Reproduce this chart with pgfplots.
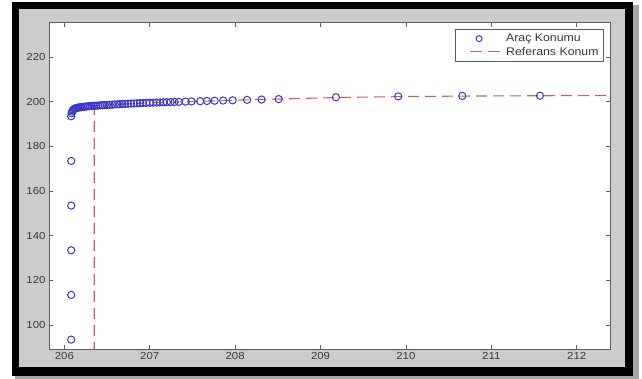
\documentclass[border=0pt]{standalone}
\usepackage{pgfplots}
\pgfplotsset{compat=1.18}
\usepackage{fontspec}
\setmainfont{Liberation Sans}[FakeStretch=1.12]
\definecolor{frgray}{RGB}{204,204,204}
\definecolor{mblue}{RGB}{60,55,195}
\definecolor{mred}{RGB}{205,95,95}
\definecolor{axgray}{RGB}{95,95,95}
\definecolor{lblgray}{RGB}{55,55,55}
\begin{document}
\begin{tikzpicture}[x=1pt,y=1pt]
\fill[white] (0,0) rectangle (642,379);
\fill[black!35] (15,0) rectangle (639,374);
\fill[black] (12,3) rectangle (633,377);
\fill[frgray] (19,12) rectangle (625,370);
\begin{axis}[
  at={(49pt,30pt)}, anchor=south west,
  scale only axis, width=561pt, height=326.3pt,
  xmin=205.82, xmax=212.39, ymin=89.3, ymax=235.4,
  axis background/.style={fill=white},
  axis line style={draw=axgray, line width=0.8pt},
  tick align=inside, major tick length=4pt,
  tick style={draw=axgray, line width=0.7pt},
  xtick={206,207,...,212}, ytick={100,120,...,220},
  ticklabel style={font=\fontsize{10.2}{12}\selectfont, text=lblgray},
  /pgf/number format/assume math mode=true,
  /pgf/number format/1000 sep={},
  legend style={at={(1,1)}, anchor=north east, xshift=-6pt, yshift=-6.5pt,
    draw=axgray, line width=0.8pt, fill=white,
    font=\fontsize{11}{13}\selectfont, text=lblgray,
    row sep=0pt, inner xsep=3pt, inner ysep=2.5pt},
  legend cell align=left,
]
\addplot[only marks, mark=o, mark size=3.6pt, color=mblue, mark options={line width=1pt},
  legend image code/.code={\draw[mblue, line width=1pt] (9pt,0pt) circle (3.0pt); \path[draw=none] (-12pt,0pt) -- (34pt,0pt);}]
coordinates {
(206.08,93.5) (206.08,113.5) (206.08,133.5) (206.08,153.5) (206.08,173.5) (206.08,193.5)
(206.085,194.8) (206.09,195.6) (206.10,196.2) (206.11,196.6) (206.12,196.9) (206.135,197.1)
(206.15,197.3) (206.165,197.4) (206.18,197.5) (206.20,197.6) (206.22,197.7) (206.24,197.8)
(206.26,197.9) (206.28,198.0) (206.30,198.05) (206.32,198.1) (206.345,198.2) (206.37,198.25)
(206.395,198.3) (206.42,198.4) (206.445,198.45) (206.47,198.5) (206.50,198.6) (206.53,198.65)
(206.56,198.7) (206.59,198.8) (206.62,198.85) (206.65,198.9) (206.68,199.0) (206.71,199.05)
(206.745,199.1) (206.78,199.2) (206.815,199.25) (206.85,199.3) (206.885,199.35) (206.92,199.4)
(206.96,199.5) (207.00,199.55) (207.04,199.6) (207.08,199.65) (207.12,199.7) (207.16,199.75)
(207.20,199.8) (207.245,199.85) (207.29,199.9) (207.34,199.95) (207.42,200.05) (207.49,200.15)
(207.59,200.25) (207.67,200.35) (207.76,200.45) (207.86,200.55) (207.97,200.65) (208.14,200.85)
(208.31,201.0) (208.51,201.2) (209.18,202.0) (209.91,202.4) (210.66,202.6) (211.57,202.7)
};
\addlegendentry{Araç Konumu}
\addplot[color=mred, line width=1.1pt, dash pattern=on 11pt off 6pt, no marks,
  legend image code/.code={\path[draw=none] (-12pt,0pt) -- (34pt,0pt); \draw[mred, line width=1.2pt, dash pattern=on 12pt off 6pt] (0pt,0pt) -- (30pt,0pt);}]
coordinates {
(206.35,80) (206.35,198.2) (206.6,198.8) (207.0,199.5) (207.5,200.1) (208.0,200.7)
(208.5,201.2) (209.2,201.9) (209.9,202.3) (210.7,202.55) (211.6,202.7) (212.5,202.8)
};
\addlegendentry{Referans Konum}
\end{axis}
\end{tikzpicture}
\end{document}
